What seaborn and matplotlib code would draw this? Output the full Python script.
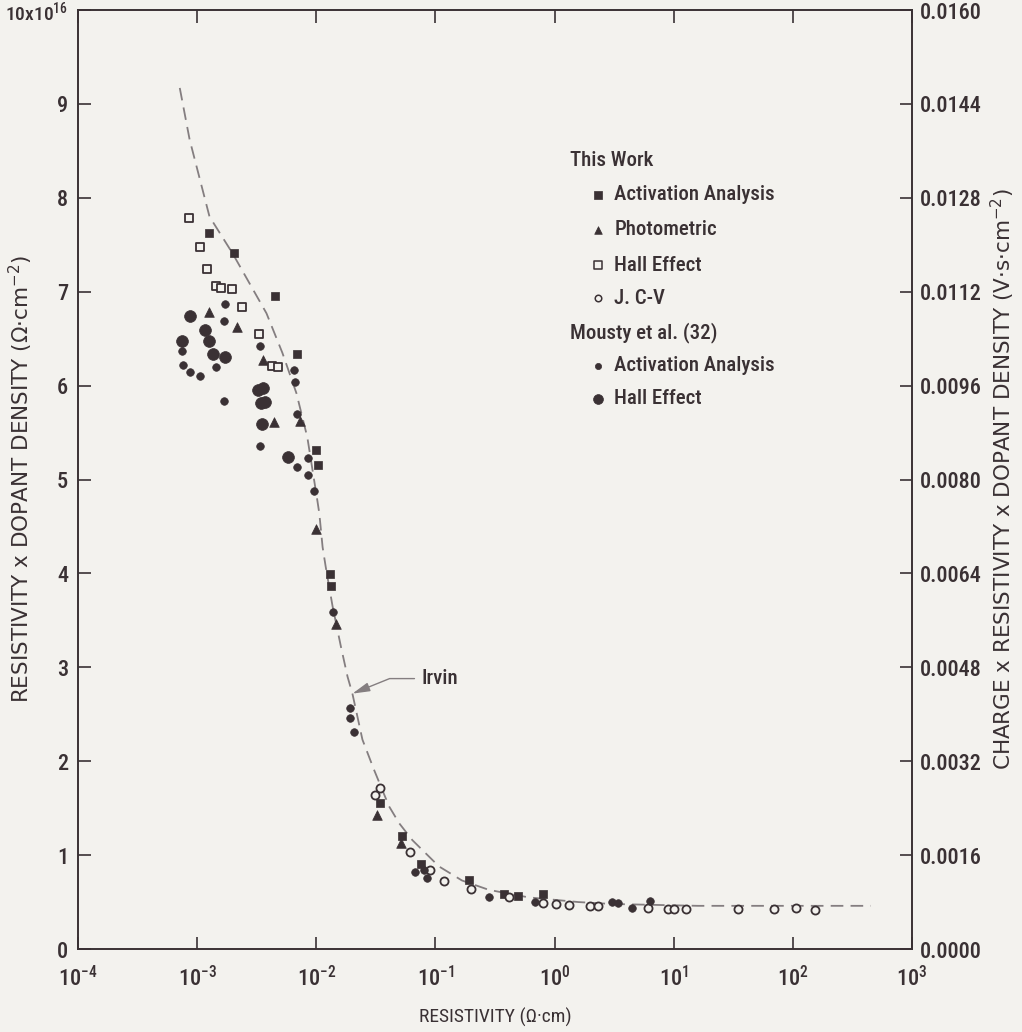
import numpy as np
import pandas as pd
import matplotlib.pyplot as plt
from matplotlib import font_manager
import seaborn as sns

sns.set_theme(style='ticks')
# a narrow face is closest to the typeset original
names = {f.name for f in font_manager.fontManager.ttflist}
narrow = [n for n in ['Liberation Sans Narrow', 'Roboto Condensed', 'Open Sans Condensed']
          if n in names]
plt.rcParams['font.family'] = narrow + ['DejaVu Sans']
plt.rcParams['font.stretch'] = 'condensed'
plt.rcParams['font.weight'] = 'medium'
plt.rcParams['mathtext.default'] = 'regular'

INK = '#3a3134'
BG = '#f3f2ee'

# --- data (resistivity in ohm*cm, product in 1e16 ohm/cm2) ---
aa_work_x = [1.26e-3, 2.02e-3, 4.51e-3, 6.89e-3, 9.86e-3, 1.03e-2, 1.30e-2, 1.34e-2,
             3.41e-2, 5.21e-2, 7.52e-2, 0.193, 0.374, 0.493, 0.794]
aa_work_y = [7.63, 7.41, 6.95, 6.34, 5.31, 5.15, 3.99, 3.87,
             1.55, 1.20, 0.91, 0.74, 0.59, 0.56, 0.59]

photo_x = [1.27e-3, 2.17e-3, 3.60e-3, 4.46e-3, 7.34e-3, 9.93e-3, 1.46e-2, 3.24e-2, 5.12e-2]
photo_y = [6.78, 6.62, 6.27, 5.61, 5.62, 4.47, 3.46, 1.43, 1.13]

hall_work_x = [8.5e-4, 1.06e-3, 1.21e-3, 1.43e-3, 1.60e-3, 1.98e-3, 2.40e-3, 3.32e-3,
               4.26e-3, 4.81e-3]
hall_work_y = [7.79, 7.48, 7.24, 7.06, 7.04, 7.03, 6.84, 6.55, 6.21, 6.20]

jcv_x = [3.41e-2, 3.12e-2, 6.12e-2, 8.93e-2, 0.118, 0.197, 0.412, 0.794, 1.03, 1.31,
         1.99, 2.33, 6.12, 9.0, 10.1, 12.6, 34.7, 68.9, 107, 152]
jcv_y = [1.71, 1.64, 1.03, 0.84, 0.72, 0.64, 0.55, 0.49, 0.48, 0.47,
         0.46, 0.46, 0.44, 0.43, 0.43, 0.43, 0.43, 0.43, 0.44, 0.42]

aa_mousty_x = [1.73e-3, 1.67e-3, 7.46e-4, 7.60e-4, 8.65e-4, 1.05e-3, 1.44e-3, 1.67e-3,
               3.38e-3, 6.55e-3, 6.64e-3, 6.93e-3, 3.40e-3, 6.84e-3, 8.54e-3, 8.54e-3,
               9.48e-3, 1.37e-2, 1.93e-2, 1.93e-2, 2.08e-2, 6.73e-2, 8.01e-2, 8.53e-2,
               0.281, 0.689, 3.02, 3.43, 4.43, 6.32]
aa_mousty_y = [6.87, 6.69, 6.37, 6.22, 6.14, 6.10, 6.20, 5.84,
               6.42, 6.17, 6.04, 5.70, 5.36, 5.13, 5.23, 5.05,
               4.88, 3.59, 2.57, 2.46, 2.31, 0.82, 0.84, 0.76,
               0.55, 0.50, 0.50, 0.49, 0.44, 0.51]

hall_mousty_x = [8.65e-4, 1.16e-3, 7.46e-4, 1.26e-3, 1.37e-3, 1.70e-3, 3.23e-3, 3.56e-3,
                 3.44e-3, 3.74e-3, 3.48e-3, 5.83e-3]
hall_mousty_y = [6.74, 6.59, 6.48, 6.48, 6.34, 6.31, 5.95, 5.97,
                 5.82, 5.83, 5.59, 5.24]

irvin_x = [7.15e-4, 8.65e-4, 1.27e-3, 1.98e-3, 3.82e-3, 5.19e-3, 6.81e-3, 8.41e-3,
           1.02e-2, 1.06e-2, 1.13e-2, 1.20e-2, 1.37e-2, 1.61e-2, 1.83e-2, 2.01e-2,
           2.44e-2, 3.05e-2, 4.08e-2, 4.96e-2, 6.40e-2, 0.107, 0.167, 0.281, 0.605,
           1.59, 3.0, 16, 450]
irvin_y = [9.17, 8.62, 7.80, 7.41, 6.77, 6.35, 5.92, 5.45,
           4.78, 4.64, 4.28, 4.07, 3.65, 3.22, 2.90, 2.72,
           2.23, 1.91, 1.52, 1.34, 1.16, 0.88, 0.73, 0.63, 0.55,
           0.50, 0.48, 0.46, 0.46]

x_ticks = [1e-4, 1e-3, 1e-2, 1e-1, 1e0, 1e1, 1e2, 1e3]
x_ticklabels = ['$10^{-4}$', '$10^{-3}$', '$10^{-2}$', '$10^{-1}$',
                '$10^{0}$', '$10^{1}$', '$10^{2}$', '$10^{3}$']
y_ticks = [0, 1, 2, 3, 4, 5, 6, 7, 8, 9, 10]
y_ticklabels = ['0', '1', '2', '3', '4', '5', '6', '7', '8', '9', '10x10$^{16}$']
right_ticks = [0.0, 0.0016, 0.0032, 0.0048, 0.0064, 0.0080, 0.0096, 0.0112, 0.0128,
               0.0144, 0.0160]

series = [
    # label, x, y, marker, size, filled
    ('Activation Analysis', aa_work_x, aa_work_y, 's', 40, True),
    ('Photometric', photo_x, photo_y, '^', 48, True),
    ('Hall Effect', hall_work_x, hall_work_y, 's', 38, False),
    ('J. C-V', jcv_x, jcv_y, 'o', 34, False),
    ('Activation Analysis', aa_mousty_x, aa_mousty_y, 'o', 30, True),
    ('Hall Effect', hall_mousty_x, hall_mousty_y, 'o', 72, True),
]

fig = plt.figure(figsize=(10.22, 10.32), dpi=100, facecolor=BG)
ax = fig.add_axes([0.0763, 0.0804, 0.8161, 0.9099], facecolor=BG)

irvin = pd.DataFrame({'x': irvin_x, 'y': irvin_y})
sns.lineplot(data=irvin, x='x', y='y', ax=ax, color='#847e80', lw=1.3,
             dashes=False, linestyle=(0, (7, 4)), zorder=1)

for label, xs, ys, mk, s, filled in series:
    d = pd.DataFrame({'x': xs, 'y': ys})
    if filled:
        sns.scatterplot(data=d, x='x', y='y', ax=ax, marker=mk, s=s, color=INK,
                        edgecolor=INK, linewidth=0.5, zorder=3)
    else:
        sns.scatterplot(data=d, x='x', y='y', ax=ax, marker=mk, s=s, facecolor=BG,
                        edgecolor=INK, linewidth=1.3, zorder=3)

ax.set_xscale('log')
ax.set_xlim(1e-4, 1e3)
ax.set_ylim(0, 10)
ax.set_xticks(x_ticks)
ax.set_xticklabels(x_ticklabels)
ax.xaxis.set_minor_locator(plt.NullLocator())
ax.set_yticks(y_ticks)
ax.set_yticklabels(y_ticklabels)
ax.tick_params(axis='both', direction='in', length=9, width=1.2, colors=INK,
               labelsize=16, top=True)
ax.tick_params(axis='x', pad=12)
ax.tick_params(axis='y', pad=7)
ax.get_yticklabels()[-1].set_fontsize(14)
ax.set_xlabel('RESISTIVITY (Ω·cm)', fontsize=14, color=INK, labelpad=12)
# the side titles are set wider than the rest of the lettering
wide = dict(family='DejaVu Sans', stretch='normal', weight='normal', fontsize=15.5,
            color=INK)
ax.set_ylabel('RESISTIVITY x DOPANT DENSITY (Ω·cm$^{-2}$)', **wide)
ax.yaxis.set_label_coords(-0.052, 0.5)
for sp in ax.spines.values():
    sp.set_color(INK)
    sp.set_linewidth(1.4)

ax2 = ax.twinx()
ax2.set_ylim(0, 0.016)
ax2.set_yticks(right_ticks)
ax2.set_yticklabels(['%.4f' % t for t in right_ticks])
ax2.tick_params(axis='y', direction='in', length=9, width=1.2, colors=INK,
                labelsize=16, pad=6)
ax2.set_ylabel('CHARGE x RESISTIVITY x DOPANT DENSITY (V·s·cm$^{-2}$)', **wide)
ax2.yaxis.set_label_coords(1.092, 0.5)
for sp in ax2.spines.values():
    sp.set_visible(False)

ax.annotate('Irvin', xy=(2.01e-2, 2.72), xytext=(7.7e-2, 2.88), fontsize=15, color=INK,
            va='center', ha='left',
            arrowprops=dict(arrowstyle='-|>,head_length=0.7,head_width=0.18',
                            color='#847e80', lw=1.0, shrinkA=3, shrinkB=0,
                            connectionstyle='angle,angleA=0,angleB=22,rad=0'))

# legend, drawn by hand in axes fraction
ax.text(0.590, 0.840, 'This Work', transform=ax.transAxes, fontsize=15, color=INK,
        va='center')
ax.text(0.590, 0.657, 'Mousty et al. (32)', transform=ax.transAxes, fontsize=15,
        color=INK, va='center')
rows = [0.803, 0.766, 0.728, 0.693, 0.621, 0.586]
leg_sizes = [26, 30, 26, 22, 20, 50]
for (label, xs, ys, mk, s, filled), yy, ls in zip(series, rows, leg_sizes):
    ax.scatter([0.6235], [yy], transform=ax.transAxes, marker=mk, s=ls,
               facecolor=INK if filled else BG, edgecolor=INK,
               linewidth=0.5 if filled else 1.1, zorder=4, clip_on=False)
    ax.text(0.643, yy, label, transform=ax.transAxes, fontsize=15, color=INK,
            va='center')

fig.savefig('out.png', dpi=100, facecolor=BG)
